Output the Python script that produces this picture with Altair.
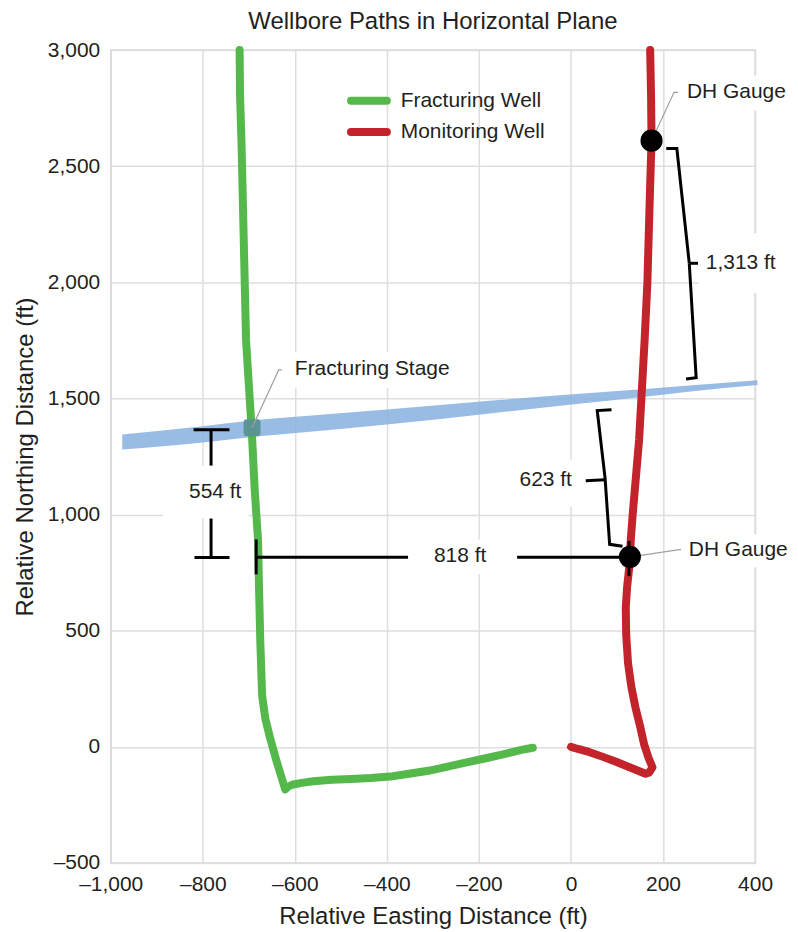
import altair as alt
import pandas as pd

FONT = "Liberation Sans"
TXT = "#231f20"
GREEN = "#55b84a"
RED = "#c3242b"

# ---- well paths (ft) ----
frac_east  = [-720, -719, -716, -711, -706, -700, -694, -687, -680, -678, -675, -671, -664, -654, -640, -628, -621, -615, -606, -585, -560, -520, -477, -435, -393, -352, -310, -268, -227, -185, -143, -110, -83]
frac_north = [3000, 2800, 2610, 2181, 1752, 1560, 1374, 1100, 893, 700, 450, 220, 120, 40, -60, -137, -183, -172, -163, -155, -148, -142, -138, -134, -128, -116, -103, -85, -67, -49, -30, -14, -4]
mon_east   = [172, 174, 175, 171, 166, 160, 154, 148, 141, 134, 130, 127, 122, 119, 120, 124, 131, 140, 150, 159, 168, 177, 170, 162, 130, 98, 68, 39, 15, 0]
mon_north  = [3000, 2800, 2610, 2350, 2000, 1752, 1537, 1322, 1160, 1000, 893, 780, 690, 600, 480, 360, 260, 170, 90, 10, -45, -88, -110, -116, -90, -64, -42, -22, -9, 0]

# ---- fracturing stage plane ----
band_east   = [-975, -800, -693, -591, -400, -157, 100, 250, 405]
band_top    = [1345, 1380, 1405, 1422, 1452, 1493, 1532, 1555, 1578]
band_bottom = [1280, 1310, 1334, 1352, 1388, 1440, 1494, 1528, 1558]

# ---- points ----
gauge_east  = [175, 128]
gauge_north = [2610, 818]
stage_east  = [-693]
stage_north = [1374]

# ---- dimension brackets (black) ----
bracket_id    = [1, 1, 2, 2, 3, 3, 4, 4, 5, 5, 6, 6, 7, 7, 8, 8, 8, 8, 8, 9, 9, 10, 10, 10, 11, 11, 11]
bracket_east  = [-820, -742, -782, -782, -782, -782, -818, -742, -684, -684, -684, -354, -117, 128, 88, 57, 74, 84, 112, 74, 32, 207, 230, 257, 257, 272, 250]
bracket_north = [1365, 1365, 1365, 1211, 983, 815, 815, 815, 893, 743, 816, 816, 816, 816, 1451, 1448, 1158, 872, 864, 1150, 1146, 2576, 2576, 2082, 2082, 1589, 1584]
tick_id    = [12, 12, 13, 13]
tick_east  = [126, 126, 257, 276]
tick_north = [886, 735, 2082, 2082]

# ---- leader lines (grey) ----
leader_id    = [1, 1, 1, 2, 2, 3, 3, 3]
leader_east  = [175, 224, 233, 130, 239, -693, -635, -628]
leader_north = [2610, 2818, 2818, 818, 850, 1374, 1623, 1623]

# ---- text labels ----
label_text  = ["DH Gauge", "DH Gauge", "Fracturing Stage", "1,313 ft", "554 ft", "818 ft", "Fracturing Well", "Monitoring Well"]
label_east  = [252, 256, -600, 293, -773, -241, -370, -370]
label_north = [2818, 848, 1627, 2082, 1097, 820, 2782, 2647]
label_align = ["left", "left", "left", "left", "center", "center", "left", "left"]
right_text  = ["623 ft"]
right_east  = [2]
right_north = [1151]

# ---- white boxes behind labels ----
box_e1 = [239, 243, -613, 278, -887, -352, -124]
box_e2 = [478, 485, -248, 452, -700, -120, 17]
box_n1 = [2890, 915, 1700, 2211, 1211, 893, 1236]
box_n2 = [2740, 773, 1546, 1954, 983, 743, 1035]

# ---- legend ----
leg_series = ["Fracturing Well", "Fracturing Well", "Monitoring Well", "Monitoring Well"]
leg_east   = [-478, -400, -478, -400]
leg_north  = [2782, 2782, 2647, 2647]

xs = alt.Scale(domain=[-1000, 400], nice=False, zero=False)
ys = alt.Scale(domain=[-500, 3000], nice=False, zero=False)
lab_expr = "datum.value < 0 ? '\u2013' + format(-datum.value, ',') : format(datum.value, ',')"
xa = alt.Axis(values=list(range(-1000, 401, 200)), title="Relative Easting Distance (ft)",
              labelExpr=lab_expr, labelFlush=False, labelOverlap=False, labelPadding=11, titlePadding=10)
ya = alt.Axis(values=list(range(-500, 3001, 500)), title="Relative Northing Distance (ft)",
              labelExpr=lab_expr, labelPadding=11, titlePadding=10, labelOverlap=False)

X = alt.X("east:Q", scale=xs, axis=xa)
Y = alt.Y("north:Q", scale=ys, axis=ya)

frac = pd.DataFrame({"east": frac_east, "north": frac_north, "o": range(len(frac_east))})
mon = pd.DataFrame({"east": mon_east, "north": mon_north, "o": range(len(mon_east))})
band = pd.DataFrame({"east": band_east, "north": band_top, "north2": band_bottom})
gauges = pd.DataFrame({"east": gauge_east, "north": gauge_north})
stage = pd.DataFrame({"east": stage_east, "north": stage_north})
br = pd.DataFrame({"id": bracket_id + tick_id, "east": bracket_east + tick_east,
                   "north": bracket_north + tick_north})
br["o"] = range(len(br))
ld = pd.DataFrame({"id": leader_id, "east": leader_east, "north": leader_north})
ld["o"] = range(len(ld))
labels = pd.DataFrame({"east": label_east, "north": label_north, "label": label_text, "align": label_align})
rlabels = pd.DataFrame({"east": right_east, "north": right_north, "label": right_text})
boxes = pd.DataFrame({"east": box_e1, "east2": box_e2, "north": box_n1, "north2": box_n2})
leg = pd.DataFrame({"series": leg_series, "east": leg_east, "north": leg_north})

box_layer = alt.Chart(boxes).mark_rect(fill="white").encode(x=X, x2="east2:Q", y=Y, y2="north2:Q")
band_layer = alt.Chart(band).mark_area(color="#86b0de", opacity=0.85, interpolate="monotone").encode(
    x=X, y=Y, y2="north2:Q")
frac_layer = alt.Chart(frac).mark_line(color=GREEN, strokeWidth=8, strokeCap="round", strokeJoin="round").encode(
    x=X, y=Y, order="o:Q")
mon_layer = alt.Chart(mon).mark_line(color=RED, strokeWidth=8, strokeCap="round", strokeJoin="round").encode(
    x=X, y=Y, order="o:Q")
rounded_sq = "M -0.6 -1 L 0.6 -1 Q 1 -1 1 -0.6 L 1 0.6 Q 1 1 0.6 1 L -0.6 1 Q -1 1 -1 0.6 L -1 -0.6 Q -1 -1 -0.6 -1 Z"
stage_layer = alt.Chart(stage).mark_point(shape=rounded_sq, filled=True, fill="#5a9193", opacity=0.95,
                                          size=289, strokeWidth=0).encode(x=X, y=Y)
br_layer = alt.Chart(br).mark_line(color="black", strokeWidth=3, strokeJoin="miter").encode(
    x=X, y=Y, detail="id:N", order="o:Q")
ld_layer = alt.Chart(ld).mark_line(color="#a0a0a0", strokeWidth=1.2).encode(
    x=X, y=Y, detail="id:N", order="o:Q")
gauge_layer = alt.Chart(gauges).mark_circle(color="black", opacity=1, size=490).encode(x=X, y=Y)
leg_layer = alt.Chart(leg).mark_line(strokeWidth=8, strokeCap="round").encode(
    x=X, y=Y, detail="series:N",
    color=alt.Color("series:N", scale=alt.Scale(domain=["Fracturing Well", "Monitoring Well"], range=[GREEN, RED]),
                    legend=None))
txt_left = alt.Chart(labels[labels["align"] == "left"]).mark_text(
    align="left", baseline="middle", font=FONT, fontSize=21, color=TXT).encode(x=X, y=Y, text="label:N")
txt_center = alt.Chart(labels[labels["align"] == "center"]).mark_text(
    align="center", baseline="middle", font=FONT, fontSize=21, color=TXT).encode(x=X, y=Y, text="label:N")
txt_right = alt.Chart(rlabels).mark_text(
    align="right", baseline="middle", font=FONT, fontSize=21, color=TXT).encode(x=X, y=Y, text="label:N")

chart = alt.layer(
    box_layer, band_layer, frac_layer, mon_layer, stage_layer, br_layer, ld_layer, gauge_layer,
    leg_layer, txt_left, txt_center, txt_right
).properties(
    width=646, height=815,
    title=alt.TitleParams("Wellbore Paths in Horizontal Plane", font=FONT, fontSize=24, fontWeight="normal",
                          color=TXT, offset=5, anchor="middle"),
    autosize=alt.AutoSizeParams(type="none"),
    padding={"left": 103, "top": 41, "right": 35, "bottom": 68},
).configure_view(
    stroke="#d6d6d6", strokeWidth=1.5
).configure_axis(
    grid=True, gridColor="#dedede", gridWidth=1.5, domain=False, ticks=False,
    labelFont=FONT, labelFontSize=21, labelColor=TXT,
    titleFont=FONT, titleFontSize=24, titleFontWeight="normal", titleColor=TXT
)

chart.save("out.html", embed_options={"renderer": "svg", "actions": False})
